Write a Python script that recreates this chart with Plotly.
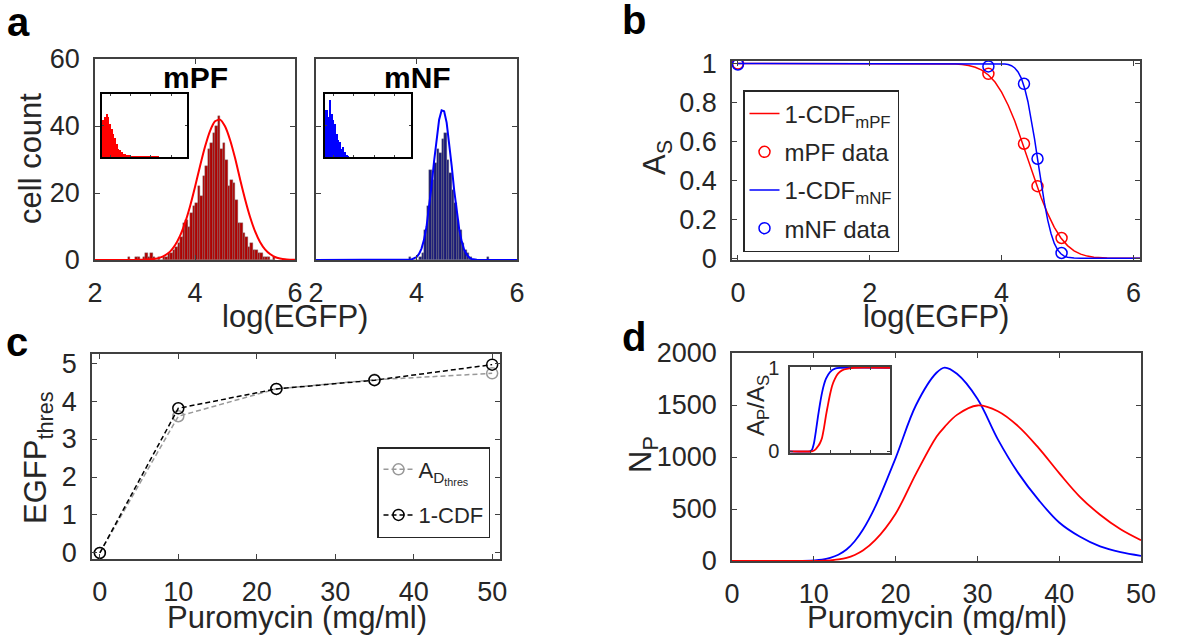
import numpy as np
import plotly.graph_objects as go

W, H = 1180, 640
FONT = "Liberation Sans"
TX = "#262626"
FR = "#404040"
RED = "#ff0000"
BLUE = "#0000ff"

# ---------------- panel a : histograms ----------------
bin_width = 0.05
red_bin_start = 2.6
red_counts = [0, 1, 0, 0, 1, 1, 0, 1, 2, 1, 2, 1, 0, 1, 0, 1, 1, 2, 2, 3,
              4, 5, 7, 11, 12, 10, 14, 16, 17, 22, 19, 25, 28, 33, 35, 38, 40, 43, 33, 35,
              30, 22, 24, 23, 18, 11, 11, 8, 7, 4, 5, 3, 3, 2, 2, 1, 1, 1, 0, 1]
blue_bin_start = 3.8
blue_counts = [0, 1, 0, 0, 0, 1, 2, 9, 16, 27, 24, 29, 33, 32, 36, 38, 30, 26, 21, 17,
               12, 9, 5, 3, 2, 1, 0, 0, 0, 0, 0, 0, 1]

red_fit_x = [2.0, 2.1, 2.2, 2.3, 2.4, 2.5, 2.6, 2.7, 2.8, 2.9, 3.0, 3.1, 3.2, 3.3, 3.4, 3.5,
             3.6, 3.7, 3.8, 3.9, 4.0, 4.1, 4.2, 4.3, 4.4, 4.5, 4.6, 4.7, 4.8, 4.9, 5.0,
             5.1, 5.2, 5.3, 5.4, 5.5, 5.6, 5.7, 5.8, 5.9, 6.0]
red_fit_y = [0, 0, 0, 0, 0, 0, 0, 0.01, 0.03, 0.06, 0.12, 0.2, 0.35, 0.72, 1.4, 2.5,
             4.4, 7.2, 11.1, 16.0, 21.8, 28.0, 33.8, 38.5, 41.4, 41.9, 39.9, 35.9, 30.5, 24.2, 18.2,
             12.9, 8.6, 5.4, 3.2, 1.8, 0.9, 0.47, 0.2, 0.1, 0.04]
blue_fit_x = [2.0, 3.8, 3.9, 4.0, 4.05, 4.1, 4.15, 4.2, 4.25, 4.3, 4.35, 4.4, 4.45, 4.5,
              4.55, 4.6, 4.65, 4.7, 4.75, 4.8, 4.85, 4.9, 4.95, 5.0, 5.05, 5.1, 5.2, 6.0]
blue_fit_y = [0, 0.02, 0.17, 0.87, 1.8, 3.4, 6.1, 10.0, 15.5, 22.2, 29.5, 36.5, 41.9, 44.7,
              44.4, 41.0, 35.2, 28.1, 20.8, 14.3, 9.2, 5.5, 3.0, 1.6, 0.74, 0.32, 0.05, 0]

# insets of panel a (normalised counts)
inset_red = [0.585, 0.64, 0.69, 0.64, 0.53, 0.45, 0.37, 0.30, 0.21, 0.13, 0.11, 0.08, 0.05,
             0.04, 0.03, 0.03, 0.02, 0.015, 0.015, 0.01, 0.01, 0.01, 0.015, 0.01, 0.005,
             0.005, 0.01, 0.005, 0.005, 0.005, 0.005, 0.005, 0.005, 0.005]
inset_blue = [0.74, 0.64, 0.90, 0.69, 0.585, 0.53, 0.37, 0.27, 0.24, 0.13, 0.16, 0.08, 0.03, 0.01]

# ---------------- panel b ----------------
b_red_x = [0.0, 2.0, 3.0, 3.1, 3.2, 3.3, 3.4, 3.5, 3.6, 3.7, 3.8, 3.9, 4.0, 4.1, 4.2, 4.3,
           4.4, 4.5, 4.6, 4.7, 4.8, 4.9, 5.0, 5.1, 5.2, 5.3, 5.4, 5.5, 5.6, 6.1]
b_red_y = [1.0, 1.0, 0.9999, 0.9996, 0.999, 0.998, 0.995, 0.990, 0.981, 0.966, 0.941, 0.905,
           0.853, 0.786, 0.705, 0.61, 0.51, 0.41, 0.312, 0.229, 0.159, 0.104, 0.065, 0.038,
           0.021, 0.011, 0.0055, 0.0026, 0.0012, 0.0]
b_blue_x = [0.0, 3.8, 3.9, 4.0, 4.05, 4.1, 4.15, 4.2, 4.25, 4.3, 4.35, 4.4, 4.45, 4.5, 4.55,
            4.6, 4.65, 4.7, 4.75, 4.8, 4.85, 4.9, 4.95, 5.0, 5.05, 5.1, 5.2, 6.1]
b_blue_y = [1.0, 1.0, 0.9999, 0.999, 0.998, 0.995, 0.989, 0.977, 0.957, 0.924, 0.873, 0.804,
            0.716, 0.613, 0.5, 0.387, 0.284, 0.196, 0.127, 0.076, 0.043, 0.023, 0.011, 0.005,
            0.002, 0.001, 0.0, 0.0]
b_data_x = [0.0, 3.8, 4.34, 4.545, 4.91]
b_red_data = [1.0, 0.947, 0.588, 0.37, 0.104]
b_blue_data = [0.995, 0.985, 0.896, 0.511, 0.027]

# ---------------- panel c ----------------
puro = [0, 10, 22.5, 35, 50]
ad_thres = [0.0, 3.6, 4.32, 4.56, 4.73]
cdf_thres = [0.0, 3.81, 4.32, 4.55, 4.96]

# ---------------- panel d ----------------
d_x = [0, 5, 8, 10, 11, 12, 13, 14, 15, 16, 17.5, 20, 22.5, 25, 26, 27.5, 30, 32.5,
       35, 37.5, 40, 42.5, 45, 47.5, 50]
d_blue = [0, 0, 0, 5, 12, 30, 60, 110, 190, 300, 520, 990, 1500, 1810, 1860, 1800,
          1560, 1170, 845, 585, 370, 235, 140, 85, 50]
d_red = [0, 0, 0, 0, 2, 6, 15, 30, 58, 100, 200, 455, 840, 1195, 1290, 1405, 1495,
         1440, 1295, 1085, 845, 620, 445, 305, 200]
ins_x_blue = [0, 10, 11, 12, 13, 14, 15, 16, 17, 18, 20, 22.5, 25, 50]
ins_blue = [0, 0, 0.02, 0.1, 0.25, 0.42, 0.57, 0.7, 0.8, 0.87, 0.95, 0.99, 1.0, 1.0]
ins_x_red = [0, 11, 12, 13, 14, 15, 16, 17, 18, 19, 20, 21, 22.5, 24, 26, 29, 32, 50]
ins_red = [0, 0, 0.01, 0.03, 0.06, 0.1, 0.16, 0.28, 0.43, 0.56, 0.68, 0.78, 0.87, 0.93,
           0.97, 0.99, 1.0, 1.0]


def dx(a, b):
    return [a / W, b / W]


def dy(top, bottom):
    return [1 - bottom / H, 1 - top / H]


def axis(domain, rng, anchor, ticks_size=27, labels=True, **kw):
    d = dict(domain=domain, range=rng, anchor=anchor, showline=True, linecolor=FR,
             linewidth=1.5, mirror="ticks", ticks="inside", ticklen=5, tickcolor=FR,
             tickwidth=1, showgrid=False, zeroline=False, showticklabels=labels,
             automargin=False,
             tickfont=dict(size=ticks_size, color=TX, family=FONT), ticklabelstandoff=8)
    d.update(kw)
    return d


fig = go.Figure()

# panel a
red_centers = [red_bin_start + bin_width * (i + 0.5) for i in range(len(red_counts))]
blue_centers = [blue_bin_start + bin_width * (i + 0.5) for i in range(len(blue_counts))]
fig.add_trace(go.Bar(x=red_centers, y=red_counts, width=bin_width, xaxis="x", yaxis="y",
                     marker=dict(color="#b00000", line=dict(color="#7a7a7a", width=0.4)),
                     showlegend=False))
fig.add_trace(go.Scatter(x=red_fit_x, y=red_fit_y, mode="lines", xaxis="x", yaxis="y",
                         line=dict(color=RED, width=2, shape="spline", smoothing=0.6),
                         showlegend=False))
fig.add_trace(go.Bar(x=blue_centers, y=blue_counts, width=bin_width, xaxis="x2", yaxis="y2",
                     marker=dict(color="#1a1a78", line=dict(color="#7a7a7a", width=0.4)),
                     showlegend=False))
fig.add_trace(go.Scatter(x=blue_fit_x, y=blue_fit_y, mode="lines", xaxis="x2", yaxis="y2",
                         line=dict(color=BLUE, width=2), showlegend=False))
fig.add_trace(go.Bar(x=[i + 1 for i in range(len(inset_red))], y=inset_red, width=1,
                     xaxis="x3", yaxis="y3", marker=dict(color=RED, line=dict(width=0)),
                     showlegend=False))
fig.add_trace(go.Bar(x=[i + 1 for i in range(len(inset_blue))], y=inset_blue, width=1,
                     xaxis="x4", yaxis="y4", marker=dict(color=BLUE, line=dict(width=0)),
                     showlegend=False))

# panel b
fig.add_trace(go.Scatter(x=b_red_x, y=b_red_y, mode="lines", xaxis="x5", yaxis="y5",
                         line=dict(color=RED, width=1.5), name="1-CDF<sub>mPF</sub>",
                         legendgroup="g1", legend="legend"))
fig.add_trace(go.Scatter(x=b_data_x, y=b_red_data, mode="markers", xaxis="x5", yaxis="y5",
                         marker=dict(symbol="circle-open", size=11, color=RED,
                                     line=dict(width=1.5)),
                         name="mPF data", legendgroup="g2", legend="legend"))
fig.add_trace(go.Scatter(x=b_blue_x, y=b_blue_y, mode="lines", xaxis="x5", yaxis="y5",
                         line=dict(color=BLUE, width=1.5), name="1-CDF<sub>mNF</sub>",
                         legendgroup="g3", legend="legend"))
fig.add_trace(go.Scatter(x=b_data_x, y=b_blue_data, mode="markers", xaxis="x5", yaxis="y5",
                         marker=dict(symbol="circle-open", size=11, color=BLUE,
                                     line=dict(width=1.5)),
                         name="mNF data", legendgroup="g4", legend="legend"))

# panel c
fig.add_trace(go.Scatter(x=puro, y=ad_thres, mode="lines+markers", xaxis="x6", yaxis="y6",
                         line=dict(color="#999999", width=1.5, dash="5px,3px"),
                         marker=dict(symbol="circle-open", size=11, color="#999999",
                                     line=dict(width=1.5)),
                         name="A<sub>D<sub>thres</sub></sub>", legend="legend2",
                         legendgroup="c1"))
fig.add_trace(go.Scatter(x=puro, y=cdf_thres, mode="lines+markers", xaxis="x6", yaxis="y6",
                         line=dict(color="#000000", width=1.5, dash="5px,3px"),
                         marker=dict(symbol="circle-open", size=11, color="#000000",
                                     line=dict(width=1.5)),
                         name="1-CDF", legend="legend2", legendgroup="c2"))

# panel d
fig.add_trace(go.Scatter(x=d_x, y=d_blue, mode="lines", xaxis="x7", yaxis="y7",
                         line=dict(color=BLUE, width=1.8, shape="spline", smoothing=1.0),
                         showlegend=False))
fig.add_trace(go.Scatter(x=d_x, y=d_red, mode="lines", xaxis="x7", yaxis="y7",
                         line=dict(color=RED, width=1.8, shape="spline", smoothing=1.0),
                         showlegend=False))
fig.add_trace(go.Scatter(x=ins_x_blue, y=ins_blue, mode="lines", xaxis="x8", yaxis="y8",
                         line=dict(color=BLUE, width=1.8, shape="spline", smoothing=0.5),
                         showlegend=False))
fig.add_trace(go.Scatter(x=ins_x_red, y=ins_red, mode="lines", xaxis="x8", yaxis="y8",
                         line=dict(color=RED, width=1.8, shape="spline", smoothing=0.5),
                         showlegend=False))

layout = dict(
    width=W, height=H, margin=dict(l=0, r=0, t=0, b=0, pad=0, autoexpand=False),
    paper_bgcolor="white", plot_bgcolor="white", bargap=0, barmode="overlay",
    font=dict(family=FONT, color=TX),
    xaxis=axis(dx(95, 295), [2, 6], "y", tickvals=[2, 4, 6]),
    yaxis=axis(dy(59, 260), [0, 60], "x", tickvals=[0, 20, 40, 60]),
    xaxis2=axis(dx(316, 517), [2, 6], "y2", tickvals=[2, 4, 6]),
    yaxis2=axis(dy(59, 260), [0, 60], "x2", labels=False, tickvals=[0, 20, 40, 60]),
    xaxis3=axis(dx(102, 187), [0, 51.2], "y3", labels=False, linecolor="#000000",
                ticklen=2, tick0=5, dtick=12.2),
    yaxis3=axis(dy(94, 157), [0, 1], "x3", labels=False, linecolor="#000000", ticklen=2,
                dtick=0.5),
    xaxis4=axis(dx(325, 411), [0, 51.2], "y4", labels=False, linecolor="#000000",
                ticklen=2, tick0=5, dtick=12.2),
    yaxis4=axis(dy(94, 157), [0, 1], "x4", labels=False, linecolor="#000000", ticklen=2,
                dtick=0.5),
    xaxis5=axis(dx(732, 1140), [-0.09, 6.1], "y5", tickvals=[0, 2, 4, 6]),
    yaxis5=axis(dy(61, 260), [-0.009, 1.013], "x5", dtick=0.2, tick0=0),
    xaxis6=axis(dx(92, 500), [-1, 51], "y6", dtick=10, tick0=0),
    yaxis6=axis(dy(354, 559), [-0.16, 5.24], "x6", dtick=1, tick0=0),
    xaxis7=axis(dx(732, 1141), [0, 50], "y7", dtick=10, tick0=0),
    yaxis7=axis(dy(353, 561), [0, 2000], "x7", dtick=500, tick0=0),
    xaxis8=axis(dx(790, 890), [0, 50], "y8", labels=False, ticklen=3, dtick=10),
    yaxis8=axis(dy(367, 453), [-0.02, 1.01], "x8", ticks_size=20, tickvals=[0, 1],
                ticklen=3, ticklabelstandoff=5),
    legend=dict(x=743 / W, y=1 - 90 / H, xanchor="left", yanchor="top", bgcolor="white",
                bordercolor=TX, borderwidth=1.5, font=dict(size=24, color=TX, family=FONT),
                tracegroupgap=4, itemwidth=30),
    legend2=dict(x=377 / W, y=1 - 447 / H, xanchor="left", yanchor="top", bgcolor="white",
                 bordercolor=TX, borderwidth=1.5, font=dict(size=22, color=TX, family=FONT),
                 tracegroupgap=14, itemwidth=30),
)
fig.update_layout(**layout)

ann = []


def text(x, y, s, size, angle=0, color=TX):
    ann.append(dict(x=x / W, y=1 - y / H, xref="paper", yref="paper", text=s,
                    showarrow=False, textangle=angle, xanchor="center", yanchor="middle",
                    font=dict(size=size, color=color, family=FONT)))


# panel letters
text(18, 22, "<b>a</b>", 40, color="#000000")
text(634, 20, "<b>b</b>", 40, color="#000000")
text(17, 342, "<b>c</b>", 40, color="#000000")
text(634, 337, "<b>d</b>", 40, color="#000000")
# histogram titles
text(195, 77, "<b>mPF</b>", 30, color="#000000")
text(417, 77, "<b>mNF</b>", 30, color="#000000")
# axis titles
text(30, 159, "cell count", 31, angle=-90)
text(295, 316, "log(EGFP)", 31)
text(936, 316, "log(EGFP)", 31)
text(657, 158, "A<sub>S</sub>", 31, angle=-90)
text(38, 458, "EGFP<sub>thres</sub>", 31, angle=-90)
text(297, 617, "Puromycin (mg/ml)", 31)
text(937, 617, "Puromycin (mg/ml)", 31)
text(643, 455, "N<sub>P</sub>", 31, angle=-90)
text(757, 406, "A<sub>P</sub>/A<sub>S</sub>", 24, angle=-90)
fig.update_layout(annotations=ann)

fig.write_html("out.html", config={"displayModeBar": False},
               post_script="document.body.style.margin='0px';")
